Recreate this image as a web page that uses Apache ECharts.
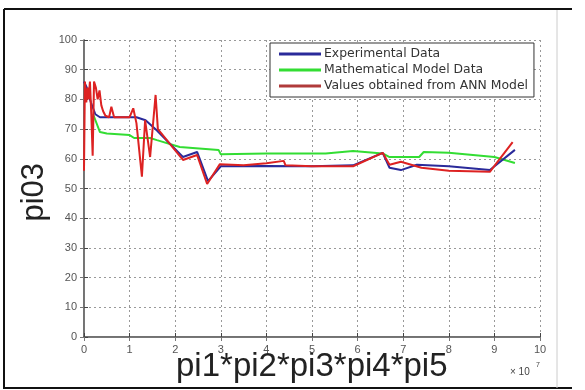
<!DOCTYPE html>
<html><head><meta charset="utf-8">
<script src="https://cdn.jsdelivr.net/npm/echarts@6/dist/echarts.min.js"></script>
<style>html,body{margin:0;padding:0;background:#fff}#c{width:585px;height:390px}</style>
</head><body><div id="c"></div>
<script>
const seriesNames = ['Experimental Data', 'Mathematical Model Data', 'Values obtained from ANN Model'];
const xTicks = [0,1,2,3,4,5,6,7,8,9,10];
const yTicks = [0,10,20,30,40,50,60,70,80,90,100];
// x in units of 10^7
const expX = [0,0.06,0.15,0.25,0.35,1.0,1.15,1.35,1.6,2.17,2.48,2.72,3.0,4.0,5.0,5.9,6.55,6.7,6.95,7.3,8.0,8.9,9.45];
const expY = [86,84,79,75,74,74,74,73,69.5,60.6,62.3,52.5,57.5,57.6,57.5,57.8,62,57,56.2,58,57.5,56.2,63];
const mathX = [0.2,0.35,0.5,1.0,1.1,1.45,1.6,2.1,2.95,3.0,4.0,5.3,5.9,6.55,6.7,7.35,7.45,8.0,9.0,9.45];
const mathY = [75,69,68.5,68,67,67,66.3,64,63,61.5,61.8,61.8,62.6,61.8,60.6,60.6,62.3,62,60.6,58.6];
const annX = [0,0.02,0.05,0.08,0.1,0.13,0.16,0.19,0.22,0.26,0.3,0.34,0.38,0.42,0.47,0.55,0.6,0.63,0.66,0.8,1.0,1.08,1.15,1.27,1.34,1.45,1.57,1.62,2.17,2.48,2.7,2.98,3.5,4.0,4.38,4.42,5.0,5.9,6.55,6.7,6.95,7.4,8.0,8.9,9.4];
const annY = [56,86,79,84,80,86,75,61,86,84,80,83,78,76,74.5,74,77.5,77,74,74,74,77,72,54,73,60.6,81.5,70,59.6,61.3,51.5,58.2,57.8,58.5,59.3,57.8,57.5,57.5,62,58,59,57,56,55.6,65.6];

const zip = (xs, ys) => xs.map((x, i) => [x, ys[i]]);
const chart = echarts.init(document.getElementById('c'));
const gridLine = {show:true, lineStyle:{type:[2,3], color:'#999', width:1}};
chart.setOption({
  animation:false,
  backgroundColor:'#fff',
  grid:{left:84, right:45, top:40, bottom:53},
  xAxis:[{type:'value', min:0, max:10, interval:1,
    axisLine:{lineStyle:{color:'#444', width:1.5}}, axisTick:{inside:true, length:4, lineStyle:{color:'#444'}},
    axisLabel:{color:'#555', fontSize:11, fontFamily:'Liberation Sans', margin:7, formatter:v=>xTicks.includes(v)?String(v):''},
    splitLine:gridLine},
    {type:'value', position:'top', min:0, max:10, interval:1,
    axisLine:{show:true, lineStyle:{color:'#777', width:1}}, axisTick:{show:true, inside:true, length:4, lineStyle:{color:'#777'}},
    axisLabel:{show:false}, splitLine:{show:false}}],
  yAxis:[{type:'value', min:0, max:100, interval:10,
    axisLine:{show:true, lineStyle:{color:'#444', width:1.5}}, axisTick:{show:true, inside:true, length:4, lineStyle:{color:'#444'}},
    axisLabel:{color:'#555', fontSize:11, fontFamily:'Liberation Sans', margin:7, formatter:v=>yTicks.includes(v)?String(v):''},
    splitLine:gridLine},
    {type:'value', position:'right', min:0, max:100, interval:10,
    axisLine:{show:true, lineStyle:{color:'#777', width:1}}, axisTick:{show:true, inside:true, length:4, lineStyle:{color:'#777'}},
    axisLabel:{show:false}, splitLine:{show:false}}],
  legend:{data:seriesNames, orient:'vertical', left:270, top:43,
    backgroundColor:'#fff', borderColor:'#333', borderWidth:1, padding:[5,6,5,9],
    icon:'rect', itemWidth:42, itemHeight:3, itemGap:4,
    textStyle:{fontSize:12.4, color:'#333', fontFamily:'DejaVu Sans', padding:[0,0,0,-2]}},
  series:[
    {name:seriesNames[1], type:'line', data:zip(mathX, mathY), showSymbol:false, lineStyle:{color:'#33dd33', width:2}, itemStyle:{color:'#33dd33'}, z:2},
    {name:seriesNames[0], type:'line', data:zip(expX, expY), showSymbol:false, lineStyle:{color:'#2a2a9a', width:2}, itemStyle:{color:'#2a2a9a'}, z:3},
    {name:seriesNames[2], type:'line', data:zip(annX, annY), showSymbol:false, lineStyle:{color:'#dd2222', width:2}, itemStyle:{color:'#b03a3a'}, z:4}
  ],
  graphic:[
    {type:'line', shape:{x1:4,y1:9,x2:572,y2:9}, style:{stroke:'#111', lineWidth:2}},
    {type:'line', shape:{x1:4,y1:9,x2:4,y2:389}, style:{stroke:'#111', lineWidth:2}},
    {type:'line', shape:{x1:4,y1:388,x2:572,y2:388}, style:{stroke:'#111', lineWidth:2}},
    {type:'line', shape:{x1:557,y1:10,x2:557,y2:388}, style:{stroke:'#ccc', lineWidth:1}},
    {type:'text', left:19, top:163, rotation:Math.PI/2, style:{text:'pi03', fontSize:31, fill:'#222', fontFamily:'Liberation Sans'}},
    {type:'text', left:176, top:350, style:{text:'pi1*pi2*pi3*pi4*pi5', fontSize:33, fill:'#222', fontFamily:'Liberation Sans'}},
    {type:'text', left:510, top:367, style:{text:'× 10', fontSize:10, fill:'#444', fontFamily:'Liberation Sans'}},
    {type:'text', left:536, top:362, style:{text:'7', fontSize:7, fill:'#444', fontFamily:'Liberation Sans'}}
  ]
});
</script></body></html>
